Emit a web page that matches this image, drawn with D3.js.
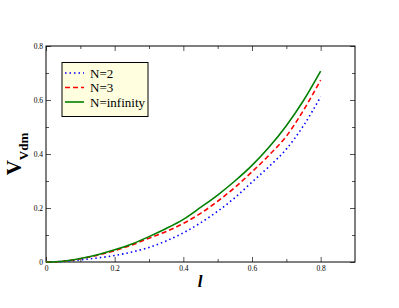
<!DOCTYPE html>
<html>
<head>
<meta charset="utf-8">
<script src="https://cdn.jsdelivr.net/npm/d3@7"></script>
<style>
body{margin:0;background:#fff;}
svg{display:block;}
</style>
</head>
<body>
<div id="chart"></div>
<script>
var width = 399;
var height = 308;
var serif = "Liberation Serif";

// data
var xs = [0,0.05,0.1,0.15,0.2,0.25,0.3,0.35,0.4,0.45,0.5,0.55,0.6,0.65,0.7,0.75,0.8];
var n2 = [0,0.002,0.008,0.015,0.024,0.037,0.054,0.078,0.108,0.145,0.188,0.238,0.296,0.354,0.418,0.505,0.612];
var n3 = [0,0.003,0.012,0.025,0.042,0.063,0.088,0.113,0.143,0.180,0.225,0.276,0.334,0.396,0.466,0.562,0.674];
var ninf = [0,0.003,0.013,0.027,0.045,0.067,0.094,0.124,0.158,0.202,0.248,0.300,0.358,0.426,0.505,0.598,0.707];
var seriesNames = ["N=2","N=3","N=infinity"];
var xTicks = [0,0.2,0.4,0.6,0.8];
var yTicks = [0,0.2,0.4,0.6,0.8];

var margin = {left:46, right:44, top:46, bottom:46};

var svg = d3.select("#chart").append("svg").attr("width",width).attr("height",height)
	.attr("font-family",serif);

var x = d3.scaleLinear().domain([0,0.9]).range([margin.left, width-margin.right]);
var y = d3.scaleLinear().domain([0,0.8]).range([height-margin.bottom, margin.top]);

var series = [
	{name:seriesNames[0], values:n2, color:"#0000ff", dash:"1.5,3"},
	{name:seriesNames[1], values:n3, color:"#ff0000", dash:"5,3"},
	{name:seriesNames[2], values:ninf, color:"#008000", dash:null}
];

// ticks, inward on all sides
var minorX = [0.1,0.3,0.5,0.7];
var minorY = [0.1,0.3,0.5,0.7];

function fmt(major){
	return function(d){ return major.indexOf(d)>=0 ? (d==0?"0":d3.format(".1f")(d)) : ""; };
}

var axBottom = svg.append("g").attr("transform","translate(0,"+y(0)+")")
	.call(d3.axisBottom(x).tickValues(xTicks.concat(minorX)).tickSizeOuter(0)
		.tickSize(-5).tickPadding(4).tickFormat(fmt(xTicks)));
var axLeft = svg.append("g").attr("transform","translate("+x(0)+",0)")
	.call(d3.axisLeft(y).tickValues(yTicks.concat(minorY)).tickSizeOuter(0)
		.tickSize(-5).tickPadding(3).tickFormat(fmt(yTicks)));
var axTop = svg.append("g").attr("transform","translate(0,"+y(0.8)+")")
	.call(d3.axisTop(x).tickValues(xTicks.concat(minorX)).tickSizeOuter(0).tickSize(-5).tickFormat(""));
var axRight = svg.append("g").attr("transform","translate("+x(0.9)+",0)")
	.call(d3.axisRight(y).tickValues(yTicks.concat(minorY)).tickSizeOuter(0).tickSize(-5).tickFormat(""));

[axBottom,axLeft,axTop,axRight].forEach(function(g){
	g.attr("font-family",serif);
	g.select(".domain").remove();
	g.selectAll("text").attr("font-size",7.5).attr("fill","#000");
	g.selectAll("line").attr("stroke","#555");
});
// minor ticks shorter
axBottom.selectAll(".tick line").attr("y2",function(d){ return xTicks.indexOf(d)>=0 ? -5 : -3; });
axTop.selectAll(".tick line").attr("y2",function(d){ return xTicks.indexOf(d)>=0 ? 5 : 3; });
axLeft.selectAll(".tick line").attr("x2",function(d){ return yTicks.indexOf(d)>=0 ? 5 : 3; });
axRight.selectAll(".tick line").attr("x2",function(d){ return yTicks.indexOf(d)>=0 ? -5 : -3; });

svg.append("rect")
	.attr("x",x(0)).attr("y",y(0.8))
	.attr("width",x(0.9)-x(0)).attr("height",y(0)-y(0.8))
	.attr("fill","none").attr("stroke","#000").attr("stroke-width",1);

var line = d3.line()
	.x(function(d,i){ return x(xs[i]); })
	.y(function(d){ return y(d); })
	.curve(d3.curveMonotoneX);

series.forEach(function(s){
	svg.append("path")
		.attr("d", line(s.values))
		.attr("fill","none")
		.attr("stroke",s.color)
		.attr("stroke-width",1.6)
		.attr("stroke-dasharray",s.dash);
});

// legend
var lg = svg.append("g");
lg.append("rect").attr("x",62).attr("y",62.5).attr("width",86).attr("height",54)
	.attr("fill","#ffffe0").attr("stroke","#000").attr("stroke-width",1);
series.forEach(function(s,i){
	var yy = 73 + i*14.5;
	lg.append("line").attr("x1",65).attr("x2",84).attr("y1",yy).attr("y2",yy)
		.attr("stroke",s.color).attr("stroke-width",1.6).attr("stroke-dasharray",s.dash);
	lg.append("text").attr("x",90).attr("y",yy+4.5).attr("font-size",13).text(s.name);
});

// axis titles
svg.append("text")
	.attr("transform","translate(21,"+ 154 +") rotate(-90)")
	.attr("text-anchor","middle")
	.attr("font-weight","bold")
	.attr("font-size",21)
	.html('V<tspan font-size="13" dy="7">Vdm</tspan>');

svg.append("text")
	.attr("x",200).attr("y",287)
	.attr("text-anchor","middle")
	.attr("font-weight","bold").attr("font-style","italic")
	.attr("font-size",17)
	.text("l");
</script>
</body>
</html>
